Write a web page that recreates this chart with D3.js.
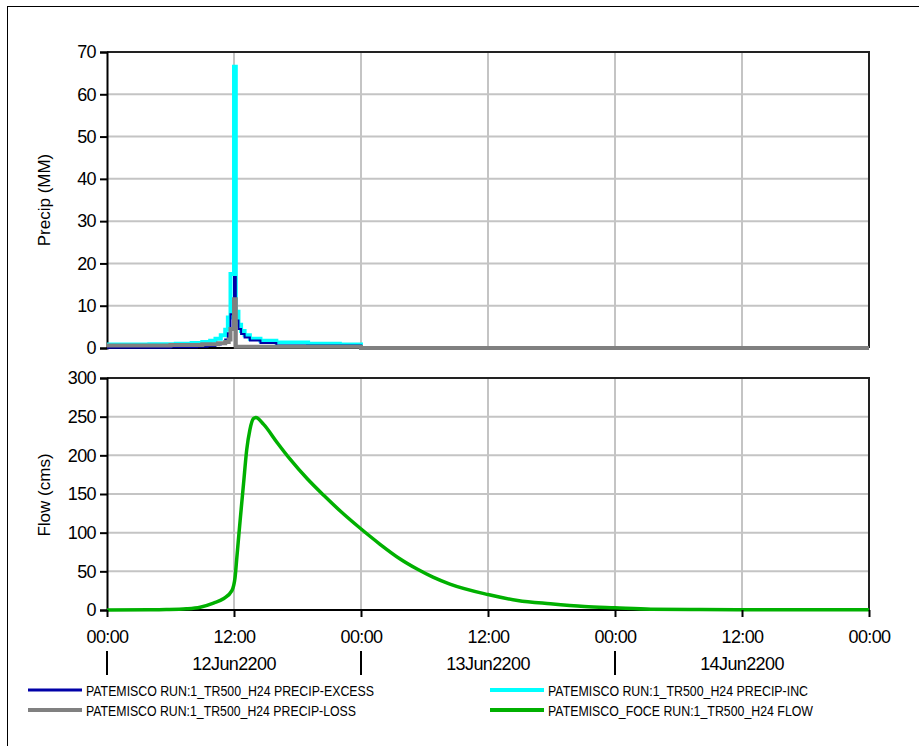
<!DOCTYPE html>
<html><head><meta charset="utf-8">
<script src="https://cdn.jsdelivr.net/npm/d3@7"></script>
<style>
body{margin:0;background:#fff}
svg{display:block}
text{font-family:"Liberation Sans",Arial,sans-serif;fill:#000}
</style>
</head><body>
<svg id="chart" width="919" height="746"></svg>
<script>
// ---------- data ----------
const xTickHours = [0, 12, 24, 36, 48, 60, 72];
const xTickLabels = ["00:00", "12:00", "00:00", "12:00", "00:00", "12:00", "00:00"];
const dayStartHours = [0, 24, 48];
const dayLabels = ["12Jun2200", "13Jun2200", "14Jun2200"];
const precipTicks = [0, 10, 20, 30, 40, 50, 60, 70];
const flowTicks = [0, 50, 100, 150, 200, 250, 300];

// PRECIP-INC (mm), step values starting at given hour
const incHours = [0, 4, 6.5, 8, 9, 9.75, 10.25, 10.75, 11.17, 11.42, 11.67, 12.0, 12.17, 12.42, 12.67, 13.0, 13.5, 14.5, 16, 19, 22, 24, 72];
const incValues = [0.8, 0.9, 1.0, 1.2, 1.4, 1.7, 2.2, 3.0, 4.3, 7.2, 17.5, 66.5, 8.6, 5.5, 4.0, 3.0, 2.2, 1.7, 1.3, 1.0, 0.8, 0, 0];
// PRECIP-EXCESS (mm)
const excHours = [0, 6, 8.5, 9.5, 10.25, 10.75, 11.17, 11.42, 11.67, 12.0, 12.17, 12.42, 12.67, 13.0, 13.5, 14.5, 16, 24, 72];
const excValues = [0.05, 0.15, 0.3, 0.5, 0.8, 1.2, 2.0, 3.5, 8.0, 16.8, 6.5, 4.5, 3.3, 2.5, 1.8, 1.2, 0.6, 0, 0];
// PRECIP-LOSS (mm)
const lossHours = [0, 6, 9, 10.5, 11.17, 11.5, 11.67, 12.0, 12.17, 24, 72];
const lossValues = [0.6, 0.7, 0.9, 1.1, 1.4, 2.0, 4.5, 11.5, 0.3, 0, 0];
// FLOW (cms)
const flowHours = [0, 4, 5.6, 7.5, 8.8, 10.06, 11.0, 11.8, 12.1, 12.27, 12.58, 12.9, 13.2, 13.5, 13.84, 14.07, 14.8, 16.05, 17.3, 18.9, 20.5, 22.04, 23.9, 25.8, 27.7, 29.3, 30.8, 32.4, 36, 38.8, 41.9, 45.1, 48, 51.4, 56, 60, 66, 72];
const flowValues = [0, 0.2, 0.5, 1.5, 3.6, 9, 14.5, 25, 42, 68, 116, 163, 207, 233, 247.5, 249, 240, 217, 195, 170, 148, 128, 106, 85, 66, 53, 42.5, 33.5, 20, 12.3, 8, 4.5, 2.8, 1.0, 0.6, 0.4, 0.3, 0.2];

const legendNames = [
  "PATEMISCO RUN:1_TR500_H24 PRECIP-EXCESS",
  "PATEMISCO RUN:1_TR500_H24 PRECIP-INC",
  "PATEMISCO RUN:1_TR500_H24 PRECIP-LOSS",
  "PATEMISCO_FOCE RUN:1_TR500_H24 FLOW"
];
const legendColors = ["#0000a8", "#00ffff", "#808080", "#00b000"];

// ---------- layout ----------
const svg = d3.select("#chart");
const L = 107, R = 869;
const topP = {y0: 348, y1: 52};
const botP = {y0: 610, y1: 378};
const FS = 18, LS = "-0.6px";

const x = d3.scaleLinear().domain([0, 72]).range([L, R]);
const yP = d3.scaleLinear().domain([0, 70]).range([topP.y0, topP.y1]);
const yF = d3.scaleLinear().domain([0, 300]).range([botP.y0, botP.y1]);

svg.append("rect").attr("x", 7.5).attr("y", 6.5).attr("width", 1000).attr("height", 1000)
  .attr("fill", "none").attr("stroke", "#000").attr("stroke-width", 1);

const gridColor = "#c4c4c4";

function panel(y, ticks, title, titleY) {
  const g = svg.append("g");
  g.selectAll(".hg").data(ticks.slice(1)).enter().append("line")
    .attr("x1", L).attr("x2", R).attr("y1", d => y(d)).attr("y2", d => y(d))
    .attr("stroke", gridColor).attr("stroke-width", 2);
  g.selectAll(".vg").data(xTickHours.slice(1, -1)).enter().append("line")
    .attr("x1", d => x(d)).attr("x2", d => x(d)).attr("y1", y.range()[1]).attr("y2", y.range()[0])
    .attr("stroke", gridColor).attr("stroke-width", 2);
  g.append("path")
    .attr("d", `M${L},${y.range()[1]}H${R}V${y.range()[0]}`)
    .attr("fill", "none").attr("stroke", "#222").attr("stroke-width", 2);
  const ax = g.append("g").attr("transform", `translate(${L},0)`)
    .call(d3.axisLeft(y).tickValues(ticks).tickSize(7).tickPadding(4).tickFormat(d3.format("d")));
  ax.select(".domain").attr("stroke", "#000").attr("stroke-width", 2);
  ax.selectAll(".tick line").attr("stroke", "#000").attr("stroke-width", 2);
  ax.selectAll("text").attr("font-size", FS).attr("letter-spacing", LS)
    .attr("font-family", "Liberation Sans, Arial, sans-serif").attr("fill", "#000");
  g.append("line").attr("x1", L).attr("x2", R).attr("y1", y.range()[0]).attr("y2", y.range()[0])
    .attr("stroke", "#000").attr("stroke-width", 2);
  svg.append("text").attr("transform", `translate(50,${titleY}) rotate(-90)`)
    .attr("text-anchor", "middle").attr("font-size", 17).text(title);
  return g;
}

panel(yP, precipTicks, "Precip (MM)", 200);
panel(yF, flowTicks, "Flow (cms)", 495);

const stepLine = (hours, yScale) => d3.line()
  .x((d, i) => x(hours[i])).y(d => yScale(d)).curve(d3.curveStepAfter);

svg.append("path").datum(incValues).attr("d", stepLine(incHours, yP))
  .attr("fill", "none").attr("stroke", legendColors[1]).attr("stroke-width", 4);
svg.append("path").datum(excValues).attr("d", stepLine(excHours, yP))
  .attr("fill", "none").attr("stroke", legendColors[0]).attr("stroke-width", 2);
svg.append("path").datum(lossValues).attr("d", stepLine(lossHours, yP))
  .attr("fill", "none").attr("stroke", legendColors[2]).attr("stroke-width", 4);

svg.append("path").datum(flowValues)
  .attr("d", d3.line().x((d, i) => x(flowHours[i])).y(d => yF(d)).curve(d3.curveMonotoneX))
  .attr("fill", "none").attr("stroke", legendColors[3]).attr("stroke-width", 3.5)
  .attr("stroke-linejoin", "round");

const xa = svg.append("g").attr("transform", `translate(0,${botP.y0})`)
  .call(d3.axisBottom(x).tickValues(xTickHours).tickSize(7).tickPadding(13)
    .tickFormat((d, i) => xTickLabels[i]));
xa.select(".domain").remove();
xa.selectAll(".tick line").attr("stroke", "#000").attr("stroke-width", 2);
xa.selectAll("text").attr("font-size", FS).attr("letter-spacing", LS)
  .attr("font-family", "Liberation Sans, Arial, sans-serif").attr("fill", "#000");

svg.selectAll(".daysep").data(dayStartHours).enter().append("line")
  .attr("x1", d => x(d)).attr("x2", d => x(d)).attr("y1", 651).attr("y2", 675)
  .attr("stroke", "#000").attr("stroke-width", 2);
svg.selectAll(".daylab").data(dayLabels).enter().append("text")
  .attr("x", (d, i) => x(dayStartHours[i] + 12)).attr("y", 670)
  .attr("text-anchor", "middle").attr("font-size", FS).attr("letter-spacing", LS).text(d => d);

const legendPos = [
  {lx: 28, tx: 86, y: 690, w: 288},
  {lx: 490, tx: 548, y: 690, w: 260},
  {lx: 28, tx: 86, y: 710, w: 270},
  {lx: 490, tx: 548, y: 710, w: 265}
];
legendNames.forEach((name, i) => {
  const p = legendPos[i];
  svg.append("line").attr("x1", p.lx).attr("x2", p.lx + 54).attr("y1", p.y).attr("y2", p.y)
    .attr("stroke", legendColors[i]).attr("stroke-width", i === 0 ? 3 : 4);
  svg.append("text").attr("x", p.tx).attr("y", p.y + 6).attr("font-size", 14)
    .attr("textLength", p.w).attr("lengthAdjust", "spacingAndGlyphs").text(name);
});
</script>
</body></html>
